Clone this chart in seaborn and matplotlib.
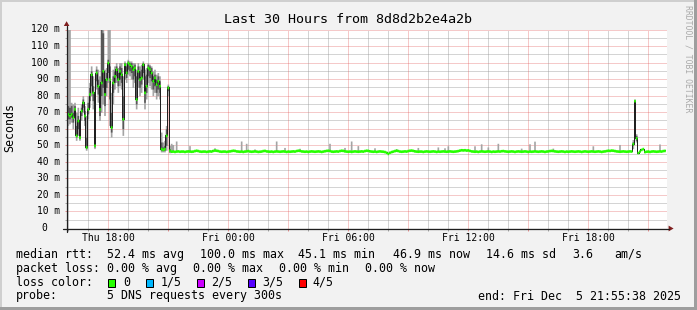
import numpy as np
import pandas as pd
import matplotlib
matplotlib.use("Agg")
import matplotlib.pyplot as plt
import seaborn as sns
from matplotlib.transforms import Affine2D, blended_transform_factory
from matplotlib.patches import Rectangle, Polygon
from matplotlib.lines import Line2D

# ---------------- data (5-minute steps, hours since 15:55:38 Thu) ----------------
STEP_HOURS = 5 / 60

early_median = [69, 68, 69, 67, 72, 56, 65, 55, 71, 76,
                68, 49, 72, 81, 93, 82, 50, 94, 86, 72,
                88, 95, 81, 90, 100, 90, 61, 88, 92, 96,
                90, 95, 93, 66, 99, 94, 100, 99, 98, 96,
                97, 78, 95, 90, 91, 99, 82, 86, 97, 96,
                94, 89, 91, 87, 89, 86, 48, 47.5, 48, 56,
                85, 47]
early_out_lo = [62, 63, 64, 60, 66, 53, 56, 53, 65, 70,
                62, 47, 66, 73, 80, 72, 48, 84, 76, 65,
                70, 75, 68, 80, 88, 62, 55, 75, 84, 88,
                82, 86, 84, 56, 90, 88, 93, 92, 90, 85,
                88, 72, 85, 80, 82, 90, 72, 78, 88, 86,
                84, 80, 82, 78, 80, 78, 46, 46, 46, 47,
                80, 45.5]
early_in_lo = [66, 66, 67, 64, 69, 55, 60, 54, 68, 73,
               65, 48, 69, 77, 86, 77, 49, 89, 81, 68,
               80, 85, 74, 85, 94, 78, 58, 82, 88, 92,
               86, 90, 88, 60, 94, 91, 96, 95, 94, 90,
               92, 75, 90, 85, 87, 94, 76, 82, 92, 91,
               89, 84, 86, 82, 84, 82, 47, 47, 47, 50,
               83, 46]
early_in_hi = [74, 73, 74, 70, 74, 62, 68, 59, 73, 78,
               71, 55, 76, 85, 95, 86, 58, 96, 90, 80,
               120, 118, 88, 94, 102, 98, 70, 92, 95, 98,
               94, 98, 97, 80, 100, 98, 101, 100, 100, 98,
               99, 92, 98, 95, 96, 100, 92, 93, 99, 98,
               97, 92, 93, 90, 92, 89, 52, 49, 50, 60,
               86, 48]
early_out_hi = [125, 125, 76, 75, 76, 70, 73, 66, 75, 80,
                74, 68, 80, 88, 98, 92, 75, 98, 96, 92,
                125, 125, 96, 97, 125, 125, 82, 96, 98, 100,
                97, 100, 100, 92, 101, 100, 102, 101, 101, 100,
                100, 96, 100, 98, 99, 101, 96, 97, 100, 99,
                98, 95, 96, 93, 94, 92, 58, 52, 53, 62,
                87, 50]

flat_median = [
    46.4, 46.5, 46.3, 46.5, 46.6, 46.4, 46.5, 46.5, 46.3, 46.5,
    46.6, 46.5, 46.4, 46.5, 46.8, 47.0, 46.8, 46.5, 46.4, 46.5,
    46.5, 46.3, 46.5, 46.6, 46.5, 46.9, 47.1, 47.0, 46.8, 46.5,
    46.4, 46.5, 46.5, 46.3, 46.5, 46.6, 46.8, 47.0, 46.9, 46.6,
    46.5, 46.4, 46.5, 46.3, 46.5, 46.6, 46.8, 46.5, 46.4, 46.5,
    46.6, 46.5, 46.3, 46.4, 46.5, 46.8, 46.9, 46.6, 46.5, 46.4,
    46.5, 46.3, 46.5, 46.6, 46.5, 46.4, 46.5, 46.6, 46.5, 46.3,
    46.5, 46.4, 46.5, 46.6, 46.5, 46.8, 47.0, 46.9, 46.6, 46.5,
    46.4, 46.5, 46.3, 46.5, 46.6, 46.5, 46.4, 46.5, 46.6, 46.5,
    46.3, 46.5, 46.7, 46.9, 47.0, 46.8, 46.5, 46.4, 46.5, 46.6,
    46.5, 46.8, 47.0, 46.9, 46.6, 46.5, 46.4, 46.5, 46.3, 46.5,
    46.6, 46.5, 46.4, 46.5, 46.6, 46.5, 46.8, 47.0, 46.9, 46.6,
    46.5, 46.4, 46.5, 46.3, 46.5, 46.6, 46.5, 46.4, 46.2, 45.8,
    45.1, 45.8, 46.2, 46.5, 46.8, 47.0, 46.8, 46.5, 46.4, 46.5,
    46.6, 46.5, 46.8, 47.0, 47.1, 46.9, 46.6, 46.5, 46.4, 46.5,
    46.5, 46.3, 46.5, 46.6, 46.5, 46.4, 46.5, 46.6, 46.5, 46.3,
    46.5, 46.4, 46.5, 46.6, 46.5, 46.4, 46.5, 46.6, 46.5, 46.4,
    46.5, 46.6, 46.8, 47.1, 47.3, 47.2, 47.3, 47.1, 47.2, 46.9,
    46.6, 46.5, 46.4, 46.5, 46.3, 46.5, 46.6, 46.5, 46.4, 46.5,
    46.6, 46.5, 46.3, 46.5, 46.4, 46.5, 46.6, 46.5, 46.7, 46.8,
    46.6, 46.5, 46.4, 46.5, 46.6, 46.5, 46.3, 46.5, 46.6, 46.5,
    46.4, 46.5, 46.6, 46.5, 46.3, 46.5, 46.4, 46.5, 46.6, 46.5,
    46.4, 46.5, 46.6, 46.5, 46.3, 46.5, 46.6, 46.8, 46.9, 46.8,
    46.6, 46.5, 46.4, 46.5, 46.6, 46.5, 46.3, 46.5, 46.4, 46.5,
    46.6, 46.5, 46.4, 46.5, 46.6, 46.5, 46.3, 46.5, 46.6, 46.5,
    46.4, 46.5, 46.6, 46.5, 46.4, 46.5, 46.6, 46.5, 46.3, 46.5,
    46.6, 46.8, 47.0, 46.9, 47.1, 47.0, 46.8, 46.6, 46.5, 46.4,
    46.5, 46.6, 46.5, 46.4, 46.5, 46.6, 46.5, 51.0, 77.0, 54.5,
    45.6, 46.5, 47.5, 48.0, 46.2, 46.4, 46.5, 46.3, 46.5, 46.6,
    46.5, 46.4, 46.5, 46.6, 46.5, 46.8, 46.9]

# isolated smoke spikes on the quiet part (step index, top of outer smoke)
spike_steps = [62, 63, 65, 73, 88, 104, 107, 112, 125, 130, 139, 157, 166, 170, 174,
               184, 197, 210, 222, 226, 228, 244, 248, 252, 258, 272, 277, 280, 291,
               315, 331, 355]
spike_tops = [51.2, 50.5, 52.6, 49.8, 48.5, 52.6, 51.2, 47.8, 52.6, 48.7, 48.2, 51.2,
              48.7, 52.6, 49.8, 48.5, 48.0, 48.7, 49.0, 48.5, 49.7, 49.7, 50.9, 49.0,
              51.2, 48.3, 50.9, 52.5, 48.3, 49.7, 50.5, 50.8]
# late burst
burst_steps = [339, 340, 341]
burst_out_lo = [48, 56, 52]
burst_in_lo = [50, 70, 53]
burst_in_hi = [52, 77.5, 56]
burst_out_hi = [53.5, 78, 57]

y_ticks = [10, 20, 30, 40, 50, 60, 70, 80, 90, 100, 110, 120]
y_tick_labels = ["10 m", "20 m", "30 m", "40 m", "50 m", "60 m", "70 m", "80 m",
                 "90 m", "100 m", "110 m", "120 m"]
x_tick_labels = ["Thu 18:00", "", "Fri 00:00", "", "Fri 06:00", "", "Fri 12:00", "",
                 "Fri 18:00", ""]
loss_labels = ["0", "1/5", "2/5", "3/5", "4/5"]
loss_colors = ["#26FF00", "#00B8FF", "#CC00FF", "#5500FF", "#FF0000"]

# ---------------- assemble series ----------------
median = np.array(early_median + flat_median, dtype=float)
n = len(median)
k = len(early_median)
out_lo = median.copy(); in_lo = median.copy(); in_hi = median.copy(); out_hi = median.copy()
out_lo[:k] = early_out_lo; in_lo[:k] = early_in_lo
in_hi[:k] = early_in_hi; out_hi[:k] = early_out_hi
for s, t in zip(spike_steps, spike_tops):
    if s < n:
        out_hi[s] = t
for j, s in enumerate(burst_steps):
    if s < n:
        out_lo[s] = burst_out_lo[j]; in_lo[s] = burst_in_lo[j]
        in_hi[s] = burst_in_hi[j]; out_hi[s] = burst_out_hi[j]

hours = np.arange(n + 1) * STEP_HOURS
def ext(a):
    return np.append(a, a[-1])

# ---------------- figure ----------------
W, H = 697, 310
sns.set_style("white")
plt.rcParams['font.family'] = ['DejaVu Sans Mono', 'DejaVu Sans']
plt.rcParams['lines.scale_dashes'] = False

fig = plt.figure(figsize=(W / 100, H / 100), dpi=100, facecolor='#F2F2F2')
pix = Affine2D().scale(1 / W, -1 / H).translate(0, 1) + fig.transFigure

L, R, T, B = 67, 667, 29.5, 228
ax = fig.add_axes([L / W, 1 - B / H, (R - L) / W, (B - T) / H])
ax.set_facecolor('white')
for sp in ax.spines.values():
    sp.set_visible(False)
ax.set_xlim(0, 30)
ax.set_ylim(0, 120)

GRID = (0.56, 0.56, 0.56, 0.75)
MGRID = (0.87, 0.31, 0.31, 0.60)
DOT = (0, (0.72, 0.72))
GLW = 0.72

for v in range(5, 120, 10):
    ax.axhline(v, color=GRID, lw=GLW, ls=DOT, zorder=0)
for v in range(10, 121, 10):
    ax.axhline(v, color=MGRID, lw=GLW, ls=DOT, zorder=0, clip_on=False)
hour0 = (4 * 60 + 22) / 3600.0
minor_x, major_x = [], []
for kk in range(30):
    h = hour0 + kk
    if (kk - 2) % 3 == 0:
        major_x.append(h)
        ax.axvline(h, color=MGRID, lw=GLW, ls=DOT, zorder=0)
    else:
        minor_x.append(h)
        ax.axvline(h, color=GRID, lw=GLW, ls=DOT, zorder=0)

# smoke
ax.fill_between(hours, ext(out_lo), ext(out_hi), step='post', color='#A4A4A4', lw=0, zorder=1)
ax.fill_between(hours, ext(in_lo), ext(in_hi), step='post', color='#585858', lw=0, zorder=1.1)
# median line
df = pd.DataFrame({'hours': hours, 'median': ext(median)})
sns.lineplot(data=df, x='hours', y='median', drawstyle='steps-post', color='#202020',
             lw=0.72, ax=ax, zorder=2, estimator=None)
# loss-coloured median band
band = 0.8
ax.fill_between(hours, ext(median) - band, ext(median) + band, step='post',
                color='#26FF00', lw=0, zorder=3)
ax.set_xlabel('')
ax.set_ylabel('')

# ticks
ax.set_xticks(major_x)
ax.set_xticklabels(x_tick_labels[:len(major_x)])
ax.set_xticks(minor_x, minor=True)
ax.set_yticks(y_ticks)
ax.set_yticklabels([])
ax.set_yticks(list(range(5, 120, 10)), minor=True)
ax.tick_params(axis='x', which='major', direction='out', length=2.2, width=0.72,
               color=MGRID, labelsize=7, pad=1.2, labelcolor='black', bottom=True)
ax.tick_params(axis='x', which='minor', direction='out', length=2.2, width=0.72,
               color=GRID, bottom=True)
ax.tick_params(axis='y', which='major', direction='out', length=1.8, width=0.72,
               color=MGRID, left=True)
ax.tick_params(axis='y', which='minor', direction='out', length=1.8, width=0.72,
               color=GRID, left=True)

ytr = blended_transform_factory(pix, ax.transData)
for v, lab in zip(y_ticks, y_tick_labels):
    ax.text(59.8, v, lab, transform=ytr, ha='right', va='center', fontsize=6.9,
            color='black', clip_on=False)
ax.text(47.2, 0, "0", transform=ytr, ha='right', va='center', fontsize=6.9,
        color='black', clip_on=False)

# axes lines and arrows
AXC = '#1F1F1F'
fig.add_artist(Line2D([63.3, 669], [228.5, 228.5], transform=pix, color=AXC, lw=0.9))
fig.add_artist(Line2D([66.5, 66.5], [231.5, 25.5], transform=pix, color=AXC, lw=0.9))
fig.add_artist(Polygon([[63.8, 26.0], [69.4, 26.0], [66.6, 21.2]], closed=True,
                       transform=pix, color='#801F1F', lw=0))
fig.add_artist(Polygon([[668.6, 225.6], [668.6, 231.4], [673.6, 228.5]], closed=True,
                       transform=pix, color='#801F1F', lw=0))

# border shading
fig.add_artist(Rectangle((0, 0), W, 2, transform=pix, color='#CFCFCF', lw=0))
fig.add_artist(Rectangle((0, 0), 2, H, transform=pix, color='#CFCFCF', lw=0))
fig.add_artist(Rectangle((0, H - 3), W, 3, transform=pix, color='#9E9E9E', lw=0))
fig.add_artist(Rectangle((W - 3, 0), 3, H, transform=pix, color='#9E9E9E', lw=0))

# titles
fig.text(348.5, 19.5, "Last 30 Hours from 8d8d2b2e4a2b", transform=pix, ha='center',
         va='center', fontsize=9.6, color='black')
fig.text(10, 127, "Seconds", transform=pix, ha='center', va='center', rotation=90,
         fontsize=8.4, color='black')
fig.text(688, 5, "RRDTOOL / TOBI OETIKER", transform=pix, ha='center', va='top',
         rotation=270, fontsize=5.9, color='#AAAAAA')

# legend
LFS = 8.35
rows = [
    (254.3, [(16, "median rtt:"), (107, "52.4 ms avg"), (200, "100.0 ms max"),
             (297.5, "45.1 ms min"), (393, "46.9 ms now"), (486.5, "14.6 ms sd"),
             (572, "3.6"), (614, "am/s")]),
    (268.3, [(16, "packet loss:"), (107, "0.00 % avg"), (193, "0.00 % max"),
             (279, "0.00 % min"), (365, "0.00 % now")]),
    (282.3, [(16, "loss color:")]),
    (296.0, [(16, "probe:"), (107, "5 DNS requests every 300s"),
             (478, "end: Fri Dec  5 21:55:38 2025")]),
]
for yy, segs in rows:
    for xx, s in segs:
        fig.text(xx, yy, s, transform=pix, ha='left', va='center', fontsize=LFS,
                 color='black')
box_x = [108, 146, 197, 247.5, 298.5]
lab_x = [123, 160.5, 211, 262, 312.5]
for bx, lx, c, lab in zip(box_x, lab_x, loss_colors, loss_labels):
    fig.add_artist(Rectangle((bx, 278.5), 7, 8, transform=pix, facecolor=c,
                             edgecolor='black', lw=0.72))
    fig.text(lx, 282.3, lab, transform=pix, ha='left', va='center', fontsize=LFS,
             color='black')

fig.savefig("out.png", dpi=100, facecolor=fig.get_facecolor())
